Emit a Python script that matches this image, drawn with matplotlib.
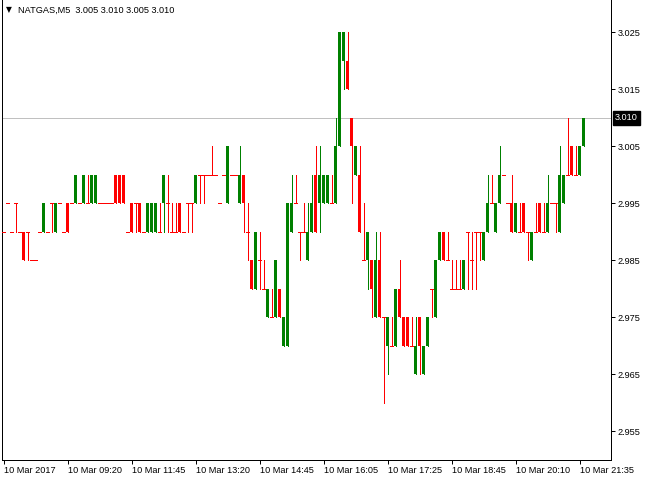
import matplotlib
matplotlib.use("Agg")
import matplotlib.pyplot as plt
from matplotlib.transforms import blended_transform_factory
import numpy as np

# ---------------- data ----------------
symbol_title = "NATGAS,M5  3.005 3.010 3.005 3.010"

opens = [
    2.990, 2.995, 2.990, 2.995, 2.990, 2.990, 2.990, 2.985, 2.985, 2.990,
    2.990, 2.990, 2.995, 2.990, 2.995, 2.990, 2.995, 2.995, 2.995, 2.995,
    2.995, 2.995, 2.995, 2.995, 2.995, 2.995, 2.995, 2.995, 3.000, 3.000,
    3.000, 2.990, 2.995, 2.995, 2.995, 2.990, 2.990, 2.990, 2.990, 2.990,
    2.995, 2.995, 2.990, 2.990, 2.995, 2.990, 2.995, 2.995, 2.995, 3.000,
    3.000, 3.000, 3.000, 3.000, 2.995, 3.000, 2.995, 3.000, 3.000, 2.995,
    3.000, 2.990, 2.985, 2.980, 2.985, 2.980, 2.975, 2.975, 2.975, 2.980,
    2.970, 2.970, 2.990, 2.995, 2.990, 2.990, 2.985, 2.990, 3.000, 2.995,
    2.995, 2.995, 2.995, 2.995, 3.005, 3.020, 3.020, 3.010, 3.000, 3.000,
    2.985, 2.985, 2.985, 2.975, 2.985, 2.975, 2.970, 2.970, 2.970, 2.980,
    2.975, 2.975, 2.970, 2.965, 2.975, 2.965, 2.970, 2.980, 2.975, 2.985,
    2.990, 2.985, 2.980, 2.980, 2.980, 2.980, 2.990, 2.985, 2.990, 2.990,
    2.985, 2.990, 2.995, 2.990, 2.995, 3.000, 2.995, 2.995, 2.990, 2.990,
    2.995, 2.990, 2.985, 2.990, 2.995, 2.990, 2.990, 2.995, 2.995, 2.990,
    2.995, 3.000, 3.005, 3.000, 3.000, 3.005,
]
highs = [
    2.990, 2.995, 2.990, 2.995, 2.990, 2.990, 2.990, 2.985, 2.985, 2.990,
    2.995, 2.990, 2.995, 2.995, 2.995, 2.990, 2.995, 2.995, 3.000, 2.995,
    3.000, 3.000, 3.000, 3.000, 2.995, 2.995, 2.995, 2.995, 3.000, 3.000,
    3.000, 2.990, 2.995, 2.995, 2.995, 2.990, 2.995, 2.995, 2.995, 2.995,
    3.000, 3.000, 2.995, 2.995, 2.995, 2.990, 2.995, 2.995, 3.000, 3.000,
    3.000, 3.000, 3.005, 3.000, 2.995, 3.000, 3.005, 3.000, 3.000, 3.005,
    3.000, 2.995, 2.985, 2.990, 2.990, 2.985, 2.980, 2.980, 2.985, 2.980,
    2.975, 2.995, 3.000, 3.000, 2.990, 2.995, 2.995, 3.000, 3.005, 3.005,
    3.000, 3.000, 3.000, 3.010, 3.025, 3.025, 3.025, 3.010, 3.005, 3.005,
    2.995, 2.990, 2.985, 2.990, 2.990, 2.975, 2.975, 2.975, 2.980, 2.985,
    2.975, 2.975, 2.975, 2.975, 2.975, 2.970, 2.975, 2.980, 2.985, 2.990,
    2.990, 2.990, 2.985, 2.985, 2.985, 2.985, 2.990, 2.990, 2.990, 2.990,
    2.990, 3.000, 3.000, 2.995, 3.005, 3.000, 2.995, 3.000, 2.995, 2.995,
    2.995, 2.990, 2.990, 2.995, 2.995, 2.995, 3.000, 2.995, 2.995, 3.005,
    3.000, 3.010, 3.005, 3.005, 3.005, 3.010,
]
lows = [
    2.990, 2.995, 2.990, 2.990, 2.990, 2.985, 2.985, 2.985, 2.985, 2.990,
    2.990, 2.990, 2.990, 2.990, 2.995, 2.990, 2.990, 2.995, 2.995, 2.995,
    2.995, 2.995, 2.995, 2.995, 2.995, 2.995, 2.995, 2.995, 2.995, 2.995,
    2.995, 2.990, 2.990, 2.990, 2.990, 2.990, 2.990, 2.990, 2.990, 2.990,
    2.990, 2.990, 2.990, 2.990, 2.990, 2.990, 2.990, 2.990, 2.995, 2.995,
    2.995, 3.000, 3.000, 3.000, 2.995, 3.000, 2.995, 3.000, 3.000, 2.995,
    2.990, 2.985, 2.980, 2.980, 2.980, 2.980, 2.975, 2.975, 2.975, 2.975,
    2.970, 2.970, 2.990, 2.995, 2.985, 2.990, 2.985, 2.990, 2.990, 2.990,
    2.995, 2.995, 2.995, 2.995, 3.005, 3.015, 3.015, 2.995, 3.000, 2.990,
    2.985, 2.980, 2.975, 2.975, 2.975, 2.960, 2.965, 2.970, 2.970, 2.975,
    2.970, 2.970, 2.970, 2.965, 2.965, 2.965, 2.970, 2.975, 2.975, 2.985,
    2.985, 2.985, 2.980, 2.980, 2.980, 2.980, 2.980, 2.980, 2.980, 2.985,
    2.985, 2.990, 2.995, 2.990, 2.995, 3.000, 2.995, 2.990, 2.990, 2.990,
    2.990, 2.985, 2.985, 2.990, 2.990, 2.990, 2.990, 2.995, 2.990, 2.990,
    2.995, 3.000, 3.000, 3.000, 3.000, 3.005,
]
closes = [
    2.990, 2.995, 2.990, 2.995, 2.990, 2.985, 2.990, 2.985, 2.985, 2.990,
    2.995, 2.990, 2.995, 2.995, 2.995, 2.990, 2.990, 2.995, 3.000, 2.995,
    3.000, 2.995, 3.000, 3.000, 2.995, 2.995, 2.995, 2.995, 2.995, 2.995,
    2.995, 2.990, 2.990, 2.995, 2.990, 2.990, 2.995, 2.995, 2.995, 2.990,
    3.000, 2.995, 2.990, 2.990, 2.990, 2.990, 2.995, 2.995, 3.000, 3.000,
    3.000, 3.000, 3.000, 3.000, 2.995, 3.000, 3.005, 3.000, 3.000, 3.000,
    2.995, 2.990, 2.980, 2.990, 2.985, 2.980, 2.980, 2.975, 2.985, 2.975,
    2.975, 2.995, 2.995, 2.995, 2.990, 2.990, 2.990, 2.995, 2.990, 3.000,
    3.000, 3.000, 2.995, 3.005, 3.025, 3.025, 3.015, 3.005, 3.005, 2.990,
    2.985, 2.990, 2.980, 2.985, 2.975, 2.975, 2.975, 2.970, 2.980, 2.975,
    2.970, 2.970, 2.970, 2.970, 2.970, 2.970, 2.975, 2.980, 2.985, 2.990,
    2.985, 2.985, 2.980, 2.980, 2.980, 2.985, 2.990, 2.985, 2.990, 2.990,
    2.990, 2.995, 2.995, 2.995, 3.000, 3.000, 2.995, 2.990, 2.995, 2.990,
    2.990, 2.990, 2.990, 2.990, 2.990, 2.990, 2.995, 2.995, 2.995, 3.000,
    3.000, 3.000, 3.000, 3.000, 3.005, 3.010,
]

price_ticks = [3.025, 3.015, 3.005, 2.995, 2.985, 2.975, 2.965, 2.955]
time_tick_bars = [0, 16, 32, 48, 64, 80, 96, 112, 128, 144]
time_tick_labels = ["10 Mar 2017", "10 Mar 09:20", "10 Mar 11:45", "10 Mar 13:20",
                    "10 Mar 14:45", "10 Mar 16:05", "10 Mar 17:25", "10 Mar 18:45",
                    "10 Mar 20:10", "10 Mar 21:35"]
last_price = 3.010

# ---------------- drawing ----------------
plt.rcParams['font.family'] = ['Liberation Sans', 'DejaVu Sans']
W, H = 650, 480
PX = 72.0 / 100.0  # one pixel in points
FS = 6.6
UP, DN = '#008000', '#FF0000'

fig = plt.figure(figsize=(W / 100, H / 100), dpi=100)
fig.patch.set_facecolor('white')
ax = fig.add_axes([2 / W, 20 / H, 609 / W, 460 / H])

o = np.array(opens)
h = np.array(highs)
l = np.array(lows)
c = np.array(closes)
idx = np.arange(len(o))
bull = c > o
cols = np.where(bull, UP, DN)

ax.axhline(last_price, color='#C0C0C0', lw=PX, zorder=1)

rng = h > l
ax.vlines(idx[rng], l[rng], h[rng], colors=cols[rng], lw=PX,
          antialiased=False, zorder=2)

body = c != o
ax.bar(idx[body], np.abs(c - o)[body], bottom=np.minimum(o, c)[body],
       width=0.75, color=cols[body], linewidth=0, antialiased=False, zorder=3)

doji = c == o
ax.hlines(o[doji], idx[doji] - 0.375, idx[doji] + 0.375, colors=DN, lw=PX,
          antialiased=False, capstyle='butt', zorder=3)

ax.set_xlim(-0.375, 151.875)
ax.set_ylim(2.9500, 3.0307)

for s in ['left', 'right', 'bottom']:
    ax.spines[s].set_linewidth(PX)
    ax.spines[s].set_color('black')
ax.spines['top'].set_visible(False)

ax.yaxis.tick_right()
ax.set_yticks(price_ticks)
ax.set_yticklabels([f"{p:.3f}" for p in price_ticks])
ax.tick_params(axis='y', which='both', length=3, width=PX, pad=2,
               labelsize=FS, direction='out', left=False, right=True)

ax.set_xticks(time_tick_bars)
ax.set_xticklabels(time_tick_labels, ha='left')
ax.tick_params(axis='x', length=3, width=PX, pad=1.5, labelsize=FS,
               direction='out')

tr = blended_transform_factory(ax.transAxes, ax.transData)
ax.annotate(f"{last_price:.3f}", xy=(1.0, last_price), xycoords=tr,
            xytext=(4, 0), textcoords='offset pixels', ha='left', va='center',
            color='white', fontsize=FS,
            bbox=dict(boxstyle='square,pad=0.25', fc='black', ec='black'))

fig.text(6 / W, 1 - 10 / H, "\u25BC", fontsize=5.5, family=['DejaVu Sans'],
         va='center', ha='left', color='black')
fig.text(18 / W, 1 - 10 / H, symbol_title, fontsize=FS, va='center',
         ha='left', color='black')

fig.savefig('out.png', dpi=100, facecolor='white')
